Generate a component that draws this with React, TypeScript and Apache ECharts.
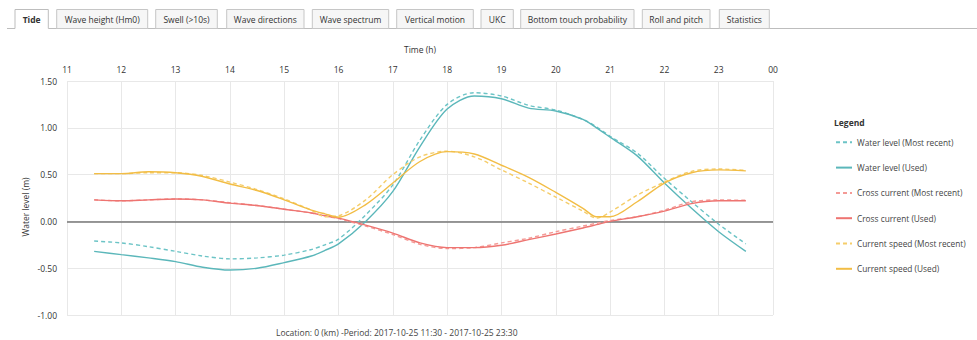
import React, { useEffect, useRef } from "react";
import * as echarts from "echarts";

// ---------- data ----------
const tabLabels = [
  "Tide",
  "Wave height (Hm0)",
  "Swell (>10s)",
  "Wave directions",
  "Wave spectrum",
  "Vertical motion",
  "UKC",
  "Bottom touch probability",
  "Roll and pitch",
  "Statistics",
];
const activeTab = "Tide";

const times = [
  11.5, 12, 12.5, 13, 13.5, 14, 14.5, 15, 15.5, 15.75, 16, 16.5, 17, 17.5, 18,
  18.5, 19, 19.5, 20, 20.5, 20.75, 21, 21.5, 22, 22.5, 23, 23.5,
];

const waterRecent = [
  -0.21, -0.23, -0.27, -0.32, -0.37, -0.4, -0.39, -0.36, -0.3, -0.25, -0.19,
  0.07, 0.39, 0.87, 1.25, 1.375, 1.34, 1.24, 1.19, 1.09, 1.01, 0.91, 0.73,
  0.46, 0.21, -0.03, -0.24,
];
const waterUsed = [
  -0.32, -0.355, -0.39, -0.43, -0.49, -0.52, -0.5, -0.44, -0.37, -0.31, -0.24,
  0.0, 0.32, 0.8, 1.2, 1.34, 1.31, 1.21, 1.18, 1.09, 1.0, 0.9, 0.7, 0.41, 0.14,
  -0.11, -0.32,
];
const crossRecent = [
  0.23, 0.22, 0.23, 0.24, 0.23, 0.2, 0.17, 0.13, 0.09, 0.06, 0.03, -0.05,
  -0.14, -0.245, -0.29, -0.28, -0.23, -0.18, -0.11, -0.05, -0.02, 0.01, 0.05,
  0.12, 0.21, 0.23, 0.225,
];
const crossUsed = [
  0.23, 0.22, 0.23, 0.24, 0.23, 0.195, 0.17, 0.13, 0.09, 0.06, 0.035, -0.04,
  -0.125, -0.23, -0.28, -0.28, -0.255, -0.195, -0.135, -0.07, -0.035, 0.0,
  0.05, 0.11, 0.19, 0.22, 0.22,
];
const speedRecent = [
  0.51, 0.51, 0.52, 0.52, 0.49, 0.42, 0.34, 0.24, 0.12, 0.05, 0.06, 0.23, 0.5,
  0.69, 0.75, 0.69, 0.55, 0.41, 0.26, 0.11, 0.035, 0.1, 0.28, 0.42, 0.535,
  0.56, 0.545,
];
const speedUsed = [
  0.51, 0.51, 0.53, 0.52, 0.48, 0.4, 0.33, 0.23, 0.12, 0.08, 0.045, 0.18, 0.41,
  0.64, 0.745, 0.72, 0.6, 0.47, 0.31, 0.14, 0.05, 0.05, 0.21, 0.41, 0.52,
  0.55, 0.54,
];

const seriesNames = [
  "Water level (Most recent)",
  "Water level (Used)",
  "Cross current (Most recent)",
  "Cross current (Used)",
  "Current speed (Most recent)",
  "Current speed (Used)",
];
const seriesValues = [
  waterRecent,
  waterUsed,
  crossRecent,
  crossUsed,
  speedRecent,
  speedUsed,
];

const xTicksMin = 11;
const xTicksMax = 24;
const yMin = -1;
const yMax = 1.5;
const yStep = 0.5;

const xAxisName = "Time (h)";
const yAxisName = "Water level (m)";
const legendTitle = "Legend";
const footerText =
  "Location: 0 (km) -Period: 2017-10-25 11:30 - 2017-10-25 23:30";

// ---------- layout / style ----------
const FONT = '"Open Sans", sans-serif';
const FS = 8.5;
const TAB_EDGES = [
  [15, 48.3],
  [56.7, 147.7],
  [155.7, 217.3],
  [226.7, 304],
  [312.3, 388.7],
  [396.7, 473.3],
  [481, 513.3],
  [520.7, 634],
  [642.3, 710],
  [719.3, 769.3],
];
const COLORS = ["#6cc4c6", "#5bb7ba", "#f49a96", "#ee7471", "#f5cd6a", "#f2bd45"];

export default function App() {
  const ref = useRef<HTMLDivElement>(null);

  useEffect(() => {
    document.body.style.margin = "0";
    const chart = echarts.init(ref.current!, undefined, { renderer: "svg" });

    const tabTop = 9.5;
    const tabBottom = 28.5;
    const graphics: any[] = [];
    graphics.push({
      type: "line",
      shape: { x1: 7, y1: tabBottom, x2: 977, y2: tabBottom },
      style: { stroke: "#bdbdbd", lineWidth: 1 },
      z: 1,
    });
    tabLabels.forEach((label, i) => {
      const [x0, x1] = TAB_EDGES[i];
      const active = label === activeTab;
      if (active) {
        graphics.push({
          type: "rect",
          shape: { x: x0, y: tabTop, width: x1 - x0, height: tabBottom - tabTop + 1 },
          style: { fill: "#ffffff" },
          z: 2,
        });
        graphics.push({
          type: "polyline",
          shape: {
            points: [
              [x0, tabBottom],
              [x0, tabTop],
              [x1, tabTop],
              [x1, tabBottom],
            ],
          },
          style: { stroke: "#bdbdbd", lineWidth: 1, fill: null },
          z: 3,
        });
      } else {
        graphics.push({
          type: "rect",
          shape: { x: x0, y: tabTop, width: x1 - x0, height: tabBottom - tabTop },
          style: { fill: "#f6f6f6", stroke: "#c6c6c6", lineWidth: 1 },
          z: 2,
        });
      }
      graphics.push({
        type: "text",
        x: (x0 + x1) / 2,
        y: 19.3,
        style: {
          text: label,
          fontFamily: FONT,
          fontSize: FS,
          fontWeight: active ? "bold" : "normal",
          fill: "#333",
          align: "center",
          verticalAlign: "middle",
        },
        z: 4,
      });
    });

    graphics.push({
      type: "text",
      x: 25,
      y: 207,
      rotation: Math.PI / 2,
      style: {
        text: yAxisName,
        fontFamily: FONT,
        fontSize: FS,
        fill: "#333",
        align: "center",
        verticalAlign: "middle",
      },
    });
    graphics.push({
      type: "text",
      x: 834,
      y: 122.7,
      style: {
        text: legendTitle,
        fontFamily: FONT,
        fontSize: FS,
        fontWeight: "bold",
        fill: "#333",
        align: "left",
        verticalAlign: "middle",
      },
    });
    graphics.push({
      type: "text",
      x: 276,
      y: 332,
      style: {
        text: footerText,
        fontFamily: FONT,
        fontSize: FS,
        fill: "#444",
        align: "left",
        verticalAlign: "middle",
      },
    });

    const series: any[] = seriesNames.map((name, i) => {
      const dashed = name.includes("Most recent");
      const s: any = {
        name,
        type: "line",
        data: times.map((t, k) => [t, seriesValues[i][k]]),
        smooth: 0.3,
        symbol: "none",
        showSymbol: false,
        lineStyle: {
          color: COLORS[i],
          width: 1.4,
          type: dashed ? [4, 3] : "solid",
        },
        itemStyle: { color: COLORS[i] },
        z: 3 + i,
      };
      if (i === 0) {
        s.markLine = {
          silent: true,
          symbol: "none",
          label: { show: false },
          lineStyle: { color: "#777", width: 1.5, type: "solid" },
          data: [{ yAxis: 0 }],
          z: 2,
        };
      }
      return s;
    });

    chart.setOption({
      animation: false,
      backgroundColor: "#ffffff",
      textStyle: { fontFamily: FONT },
      grid: { left: 67, right: 204, top: 81, bottom: 25, containLabel: false },
      xAxis: {
        type: "value",
        position: "top",
        min: xTicksMin,
        max: xTicksMax,
        interval: 1,
        name: xAxisName,
        nameLocation: "middle",
        nameGap: 27,
        nameTextStyle: { fontFamily: FONT, fontSize: FS, color: "#333" },
        axisLine: { show: false },
        axisTick: { show: false },
        axisLabel: {
          fontFamily: FONT,
          fontSize: FS,
          color: "#333",
          margin: 7,
          formatter: (v: number) => (v === 24 ? "00" : String(v)),
        },
        splitLine: { show: true, lineStyle: { color: "#e8e8e8", width: 1 } },
      },
      yAxis: {
        type: "value",
        min: yMin,
        max: yMax,
        interval: yStep,
        axisLine: { show: false },
        axisTick: { show: false },
        axisLabel: {
          fontFamily: FONT,
          fontSize: FS,
          color: "#333",
          margin: 10,
          formatter: (v: number) => v.toFixed(2),
        },
        splitLine: { show: true, lineStyle: { color: "#e8e8e8", width: 1 } },
      },
      legend: {
        orient: "vertical",
        left: 835,
        top: 137.3,
        padding: 0,
        itemWidth: 16,
        itemHeight: 10,
        itemGap: 15.3,
        data: seriesNames,
        itemStyle: { opacity: 0, borderWidth: 0 },
        textStyle: { fontFamily: FONT, fontSize: 8.3, color: "#444", lineHeight: 10 },
        selectedMode: false,
      },
      graphic: graphics,
      series,
    });

    return () => chart.dispose();
  }, []);

  return (
    <div
      ref={ref}
      style={{ position: "fixed", left: 0, top: 0, width: 977, height: 340 }}
    />
  );
}
